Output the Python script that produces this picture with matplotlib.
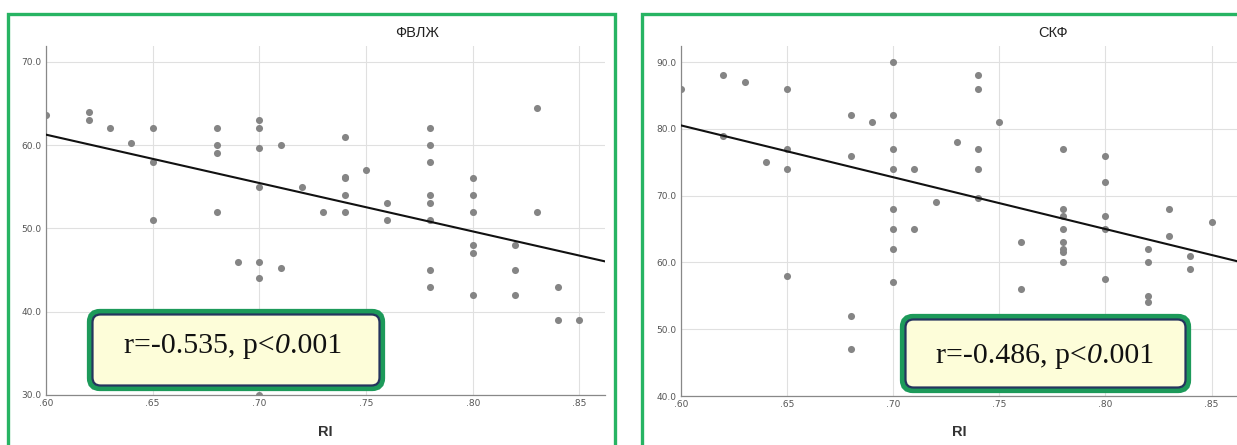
import matplotlib
matplotlib.use("Agg")
import matplotlib.pyplot as plt
import numpy as np
from matplotlib.patches import FancyBboxPatch, Rectangle
from matplotlib.ticker import FuncFormatter

# ФВЛЖ vs RI
ri_lvef = [.60, .62, .62, .63, .64, .65, .65, .65, .68, .68, .68, .68, .69,
           .70, .70, .70, .70, .70, .70, .70, .71, .71, .72, .73,
           .74, .74, .74, .74, .74, .75, .76, .76,
           .78, .78, .78, .78, .78, .78, .78, .78,
           .80, .80, .80, .80, .80, .80, .82, .82, .82, .83, .83, .84, .84, .85]
lvef = [63.6, 64, 63, 62, 60.3, 62, 58, 51, 62, 60, 59, 52, 46,
        63, 62, 59.6, 55, 46, 44, 30, 60, 45.2, 55, 52,
        61, 56.2, 56, 54, 52, 57, 53, 51,
        62, 60, 58, 54, 53, 51, 45, 43,
        56, 54, 52, 48, 47, 42, 48, 45, 42, 64.4, 52, 43, 39, 39]

# СКФ vs RI
ri_gfr = [.60, .62, .62, .63, .64, .65, .65, .65, .65, .68, .68, .68, .68, .69,
          .70, .70, .70, .70, .70, .70, .70, .70, .71, .71, .72, .73,
          .74, .74, .74, .74, .74, .75, .76, .76,
          .78, .78, .78, .78, .78, .78, .78, .78,
          .80, .80, .80, .80, .80, .82, .82, .82, .82, .83, .83, .84, .84, .85]
gfr = [86, 88, 79, 87, 75, 86, 77, 74, 58, 82, 76, 52, 47, 81,
       90, 82, 77, 74, 68, 65, 62, 57, 74, 65, 69, 78,
       88, 86, 77, 74, 69.6, 81, 63, 56,
       77, 68, 67, 65, 63, 62, 61.5, 60,
       76, 72, 67, 65, 57.5, 62, 60, 55, 54, 68, 64, 61, 59, 66]

panels = [
    dict(x=ri_lvef, y=lvef, title="ФВЛЖ", r="r=-0.535, p<",
         yticks=[30, 40, 50, 60, 70], ylim=(30, 71.9),
         pos=[46 / 1237, 50 / 445, 559 / 1237, 349 / 445],
         title_x=417, box=(90, 312, 292, 76), text_x=124, base_y=353),
    dict(x=ri_gfr, y=gfr, title="СКФ", r="r=-0.486, p<",
         yticks=[40, 50, 60, 70, 80, 90], ylim=(40, 92.4),
         pos=[681 / 1237, 49 / 445, 556 / 1237, 350 / 445],
         title_x=1053, box=(903, 317, 285, 73), text_x=936, base_y=363),
]
xticks = [.60, .65, .70, .75, .80, .85]

W, H = 1237, 445
fig = plt.figure(figsize=(W / 100, H / 100), dpi=100)

# green frames
for fx, fw in [(8, 607), (642, 620)]:
    fig.patches.append(Rectangle((fx / W, -0.1), fw / W, (H - 14) / H + 0.1,
                                 transform=fig.transFigure, fill=False,
                                 ec="#27b463", lw=2.4, zorder=0))

for p in panels:
    ax = fig.add_axes(p["pos"])
    ax.scatter(p["x"], p["y"], s=26, color="#858585", zorder=3, linewidths=0)
    k, b = np.polyfit(p["x"], p["y"], 1)
    xs = np.array([0.60, 0.862])
    ax.plot(xs, k * xs + b, color="#111111", lw=1.5, zorder=4)
    ax.set_xlim(0.60, 0.862)
    ax.set_ylim(*p["ylim"])
    ax.set_xticks(xticks)
    ax.set_yticks(p["yticks"])
    ax.xaxis.set_major_formatter(FuncFormatter(lambda v, _: f"{v:.2f}"[1:]))
    ax.yaxis.set_major_formatter(FuncFormatter(lambda v, _: f"{v:.1f}"))
    ax.tick_params(length=0, labelsize=6.5, labelcolor="#555555", pad=3)
    ax.grid(True, color="#e0e0e0", lw=0.8)
    ax.set_axisbelow(True)
    for s in ["top", "right"]:
        ax.spines[s].set_visible(False)
    for s in ["left", "bottom"]:
        ax.spines[s].set_color("#888888")
        ax.spines[s].set_linewidth(0.9)
    ax.patch.set_alpha(0)

    fig.text(p["title_x"] / W, 1 - 33 / H, p["title"], ha="center", va="center",
             fontsize=10.5, family="Liberation Sans", color="#222222")
    cx = (p["pos"][0] + p["pos"][2] / 2)
    fig.text(cx, 1 - 432 / H, "RI", ha="center", va="center", fontsize=10.5,
             family="Liberation Sans", weight="bold", color="#333333")

    bx, by, bw, bh = p["box"]
    fig.patches.append(FancyBboxPatch((bx / W, 1 - (by + bh) / H), bw / W, bh / H,
                                      boxstyle="round,pad=0,rounding_size=0.008",
                                      mutation_aspect=W / H,
                                      transform=fig.transFigure, fc="#fdfdd9",
                                      ec="#1d9a5a", lw=4.5, zorder=5))
    fig.patches.append(FancyBboxPatch(((bx + 2.5) / W, 1 - (by + bh - 2.5) / H),
                                      (bw - 5) / W, (bh - 5) / H,
                                      boxstyle="round,pad=0,rounding_size=0.0065",
                                      mutation_aspect=W / H,
                                      transform=fig.transFigure, fc="#fdfdd9",
                                      ec="#25345e", lw=1.6, zorder=6))
    ty = 1 - p["base_y"] / H
    t1 = fig.text(p["text_x"] / W, ty, p["r"], ha="left", va="baseline",
                  fontsize=21.5, family="Liberation Serif", color="#111111", zorder=7)
    t2 = fig.text(0, ty, "0", fontsize=21.5, family="Liberation Serif", style="italic",
                  color="#111111", zorder=7, ha="left", va="baseline")
    t3 = fig.text(0, ty, ".001", fontsize=21.5, family="Liberation Serif",
                  color="#111111", zorder=7, ha="left", va="baseline")
    p["pieces"] = (t1, t2, t3)

# chain the text pieces after layout is known
fig.canvas.draw()
r = fig.canvas.get_renderer()
for p in panels:
    t1, t2, t3 = p["pieces"]
    x0, y0 = t1.get_position()
    t2.set_position((t1.get_window_extent(r).x1 / W, y0))
    t3.set_position((t2.get_window_extent(r).x1 / W, y0))

fig.savefig("out.png", dpi=100)
